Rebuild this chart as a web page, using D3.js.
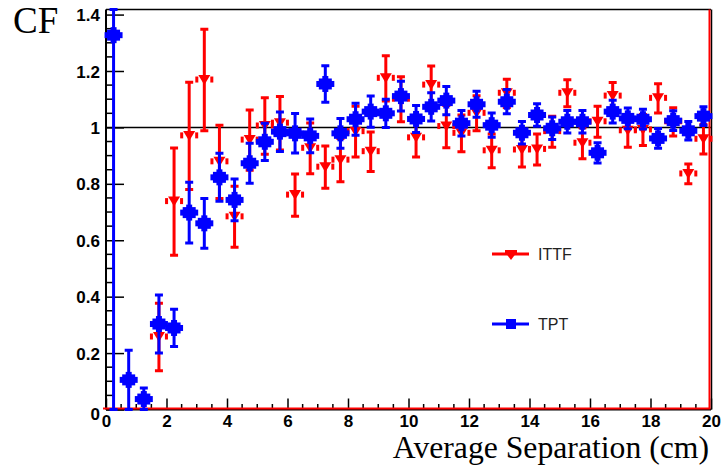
<!DOCTYPE html>
<html>
<head>
<meta charset="utf-8">
<script src="https://cdn.jsdelivr.net/npm/d3@7"></script>
<style>
  html, body { margin: 0; padding: 0; background: #fff; }
  svg { display: block; }
</style>
</head>
<body>
<svg id="chart" width="721" height="472"></svg>
<script>
// Bin centres (cm), 0.5 cm wide bins from 0 to 20
const binCenters = d3.range(40).map(i => 0.25 + 0.5 * i);

// TPT correlation function and its errors
const tptValues = [1.327, 0.105, 0.037, 0.303, 0.289, 0.698, 0.660, 0.823, 0.743, 0.873,
                   0.949, 0.985, 0.979, 0.970, 1.154, 0.979, 1.029, 1.056, 1.050, 1.111,
                   1.030, 1.073, 1.095, 1.015, 1.082, 1.008, 1.091, 0.981, 1.044, 0.997,
                   1.020, 1.020, 0.910, 1.056, 1.032, 1.029, 0.961, 1.024, 0.988, 1.040];
const tptErrors = [1.400, 0.105, 0.039, 0.103, 0.066, 0.108, 0.088, 0.085, 0.074, 0.071,
                   0.066, 0.070, 0.070, 0.060, 0.065, 0.053, 0.057, 0.055, 0.050, 0.053,
                   0.048, 0.050, 0.050, 0.045, 0.046, 0.043, 0.043, 0.040, 0.040, 0.040,
                   0.040, 0.040, 0.036, 0.040, 0.037, 0.035, 0.035, 0.035, 0.033, 0.033];

// ITTF correlation function and its errors (no entries in the first three bins)
const ittfValues = [null, null, null, 0.257, 0.737, 0.970, 1.168, 0.878, 0.683, 0.955,
                    1.005, 1.015, 0.760, 0.926, 0.859, 0.884, 0.985, 0.914, 1.174, 1.100,
                    0.963, 1.150, 1.003, 0.979, 1.050, 0.917, 1.121, 0.920, 0.922, 0.985,
                    1.121, 0.944, 1.020, 1.111, 0.988, 0.991, 1.103, 1.020, 0.835, 0.958];
const ittfErrors = [null, null, null, 0.120, 0.190, 0.190, 0.180, 0.130, 0.108, 0.107,
                    0.100, 0.095, 0.075, 0.090, 0.075, 0.077, 0.090, 0.070, 0.080, 0.080,
                    0.068, 0.068, 0.075, 0.065, 0.062, 0.060, 0.050, 0.060, 0.055, 0.055,
                    0.048, 0.055, 0.055, 0.048, 0.058, 0.055, 0.052, 0.050, 0.035, 0.052];

// Axis ticks
const xTicks = [0, 2, 4, 6, 8, 10, 12, 14, 16, 18, 20];
const yTicks = [0, 0.2, 0.4, 0.6, 0.8, 1, 1.2, 1.4];

const TPT_COLOR = "#0000ff";
const ITTF_COLOR = "#ff0000";

const svg = d3.select("#chart");
const x = d3.scaleLinear().domain([0, 20]).range([106, 711]);
const y = d3.scaleLinear().domain([0, 1.418]).range([409.5, 9.5]);
const [yMin, yMax] = y.domain();

// Clip region for the data
svg.append("clipPath").attr("id", "plotclip")
  .append("rect").attr("x", x(0) - 12).attr("y", y(yMax) - 2)
  .attr("width", x(20) - x(0) + 14).attr("height", y(0) - y(yMax) + 4);

// Frame (top and right)
svg.append("line").attr("x1", x(0)).attr("x2", x(20)).attr("y1", y(yMax)).attr("y2", y(yMax))
  .attr("stroke", "#000").attr("stroke-width", 1.5);
svg.append("line").attr("x1", x(20) + 0.5).attr("x2", x(20) + 0.5).attr("y1", y(yMax)).attr("y2", y(0))
  .attr("stroke", "#000").attr("stroke-width", 1.5);

// Reference line at CF = 1
svg.append("line").attr("x1", x(0)).attr("x2", x(20)).attr("y1", y(1)).attr("y2", y(1))
  .attr("stroke", "#000").attr("stroke-width", 1.5);

// Y axis: ticks pointing inward, minor ticks every 0.05
const yAxis = d3.axisRight(y).tickValues(yTicks).tickSize(18)
  .tickFormat(d => d === 0 ? "0" : d3.format("")(+d.toFixed(1)));
const gy = svg.append("g").attr("transform", `translate(${x(0)},0)`).call(yAxis);
gy.select(".domain").attr("stroke", "#000").attr("stroke-width", 2).attr("d", `M0,${y(0)}V${y(yMax)}`);
gy.selectAll(".tick line").attr("stroke", "#000").attr("stroke-width", 1.5);
gy.selectAll(".tick text")
  .attr("x", -6).attr("text-anchor", "end").attr("dy", "0.36em")
  .attr("font-family", "Liberation Sans, Arial, sans-serif")
  .attr("font-weight", "bold").attr("font-size", 17).attr("fill", "#000");
gy.selectAll(".tick").filter(d => d === 0).select("text").attr("dy", "0.6em");
const yMinor = d3.range(0, yMax, 0.05).filter(v => Math.abs(v / 0.2 - Math.round(v / 0.2)) > 1e-6);
svg.append("g").selectAll("line").data(yMinor).join("line")
  .attr("x1", x(0)).attr("x2", x(0) + 9).attr("y1", d => y(d)).attr("y2", d => y(d))
  .attr("stroke", "#000").attr("stroke-width", 1.5);

// X axis: ticks pointing up, minor ticks every 0.5
const xAxis = d3.axisTop(x).tickValues(xTicks).tickSize(11).tickFormat(d3.format("d"));
const gx = svg.append("g").attr("transform", `translate(0,${y(0)})`).call(xAxis);
gx.select(".domain").attr("stroke", "#000").attr("stroke-width", 2).attr("d", `M${x(0)},0H${x(20)}`);
gx.selectAll(".tick line").attr("stroke", "#000").attr("stroke-width", 1.5);
gx.selectAll(".tick text")
  .attr("y", 5.5).attr("dy", "0.71em")
  .attr("font-family", "Liberation Sans, Arial, sans-serif")
  .attr("font-weight", "bold").attr("font-size", 17).attr("fill", "#000");
const xMinor = d3.range(0.5, 20, 0.5).filter(v => v % 2 !== 0);
svg.append("g").selectAll("line").data(xMinor).join("line")
  .attr("x1", d => x(d)).attr("x2", d => x(d)).attr("y1", y(0)).attr("y2", y(0) - 5.5)
  .attr("stroke", "#000").attr("stroke-width", 1.5);

// Red outline along the bottom and right edges
svg.append("path")
  .attr("d", `M${x(0) - 3},${y(0) - 1}H${x(20) - 1.5}V${y(yMax)}`)
  .attr("fill", "none").attr("stroke", ITTF_COLOR).attr("stroke-width", 2);

const plot = svg.append("g").attr("clip-path", "url(#plotclip)");

function clampY(v) { return Math.max(yMin, Math.min(yMax, v)); }

function drawErrorBars(g, values, errors, color) {
  const pts = binCenters.map((c, i) => ({ c, v: values[i], e: errors[i] }))
    .filter(d => d.v !== null);
  const eg = g.append("g");
  pts.forEach(d => {
    const px = x(d.c);
    const top = y(clampY(d.v + d.e));
    const bot = y(clampY(d.v - d.e));
    eg.append("line").attr("x1", px).attr("x2", px).attr("y1", top).attr("y2", bot)
      .attr("stroke", color).attr("stroke-width", 3);
    [top, bot].forEach(yy => {
      eg.append("line").attr("x1", px - 4).attr("x2", px + 4).attr("y1", yy).attr("y2", yy)
        .attr("stroke", color).attr("stroke-width", 3);
    });
  });
  return pts;
}

// ITTF: downward triangles with short side caps
const ittfPts = drawErrorBars(plot, ittfValues, ittfErrors, ITTF_COLOR);
const ittfMarks = plot.append("g");
ittfPts.forEach(d => {
  const px = x(d.c), py = y(d.v);
  ittfMarks.append("path")
    .attr("d", `M${px - 6},${py - 5}L${px + 6},${py - 5}L${px},${py + 5}Z`)
    .attr("fill", ITTF_COLOR);
  [-1, 1].forEach(s => {
    ittfMarks.append("rect").attr("x", px + s * 7.5 - 1.5).attr("y", py - 3.5)
      .attr("width", 3).attr("height", 6).attr("fill", ITTF_COLOR);
  });
});

// TPT: filled squares with a stepped outline
const tptPts = drawErrorBars(plot, tptValues, tptErrors, TPT_COLOR);
const tptMarks = plot.append("g");
tptPts.forEach(d => {
  const px = x(d.c), py = y(d.v);
  tptMarks.append("rect").attr("x", px - 6.5).attr("y", py - 5.5).attr("width", 13).attr("height", 11).attr("fill", TPT_COLOR);
  tptMarks.append("rect").attr("x", px - 9).attr("y", py - 3).attr("width", 18).attr("height", 6).attr("fill", TPT_COLOR);
  tptMarks.append("rect").attr("x", px - 3).attr("y", py - 8).attr("width", 6).attr("height", 16).attr("fill", TPT_COLOR);
});

// Legend
const legend = svg.append("g");
const legendItems = [
  { label: "ITTF", color: ITTF_COLOR, yPos: 254, shape: "tri" },
  { label: "TPT", color: TPT_COLOR, yPos: 324, shape: "sq" }
];
legendItems.forEach(it => {
  legend.append("line").attr("x1", 492).attr("x2", 529).attr("y1", it.yPos).attr("y2", it.yPos)
    .attr("stroke", it.color).attr("stroke-width", 3);
  if (it.shape === "tri") {
    legend.append("path").attr("d", `M${505},${it.yPos - 2}L${517},${it.yPos - 2}L${511},${it.yPos + 6}Z`)
      .attr("fill", it.color);
    legend.append("rect").attr("x", 505).attr("y", it.yPos - 4).attr("width", 12).attr("height", 3).attr("fill", it.color);
  } else {
    legend.append("rect").attr("x", 506).attr("y", it.yPos - 5).attr("width", 10).attr("height", 10).attr("fill", it.color);
  }
  legend.append("text").attr("x", 538).attr("y", it.yPos + 6)
    .attr("font-family", "Liberation Sans, Arial, sans-serif").attr("font-size", 16)
    .attr("fill", "#222").text(it.label);
});

// Titles
svg.append("text").attr("x", 13).attr("y", 33)
  .attr("font-family", "Liberation Serif, Times New Roman, serif").attr("font-size", 37)
  .attr("fill", "#000").text("CF");
svg.append("text").attr("x", 709).attr("y", 458).attr("text-anchor", "end")
  .attr("font-family", "Liberation Serif, Times New Roman, serif").attr("font-size", 31.7)
  .attr("fill", "#000").text("Average Separation (cm)");
</script>
</body>
</html>
